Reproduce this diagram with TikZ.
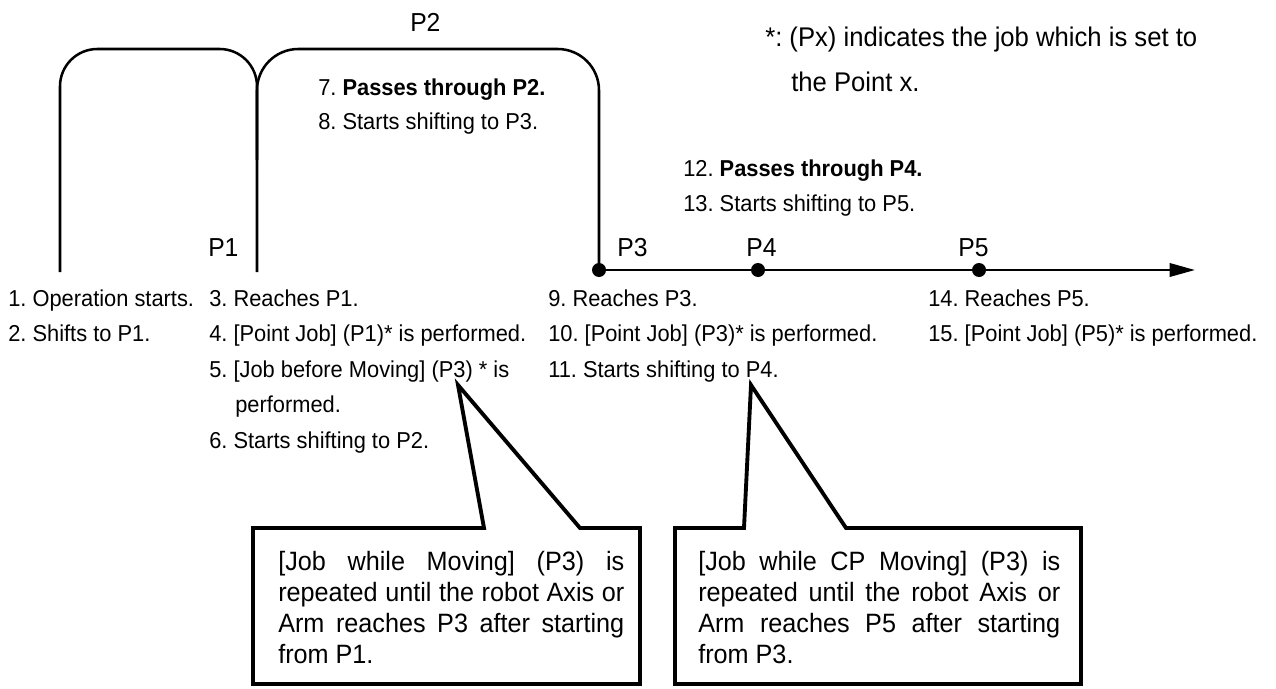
\documentclass[tikz,border=0pt]{standalone}
\usepackage{fontspec}
\setmainfont[FakeStretch=0.95]{Liberation Sans}
\usetikzlibrary{arrows.meta}
\frenchspacing
\begin{document}
\begin{tikzpicture}[x=0.75pt,y=-0.75pt,
  txt/.style={anchor=base west, inner sep=0pt, font=\fontsize{17.25}{20}\selectfont},
  plabel/.style={anchor=base west, inner sep=0pt, font=\fontsize{19.5}{22}\selectfont},
  note/.style={anchor=base west, inner sep=0pt, font=\fontsize{20.25}{24}\selectfont},
  pathline/.style={line width=1.9pt},
  dot/.style={circle, fill=black, inner sep=0pt, minimum size=10.5pt},
  callout/.style={line width=2.9pt, line join=miter},
  calltext/.style={anchor=base west, inner sep=0pt, font=\fontsize{19.9}{23.25}\selectfont}]
\useasboundingbox (0,0) rectangle (1276,688);

% path
\coordinate (start) at (60,272);
\coordinate (p1) at (257,272);
\coordinate (p1up) at (257,160);
\coordinate (end) at (1195,270);
\node[dot] (p3) at (599,270) {};
\node[dot] (p4) at (758,270) {};
\node[dot] (p5) at (979,270) {};
\draw[pathline, rounded corners=28pt] (start) -- (60,49) -- (257,49) -- (p1);
\draw[pathline, rounded corners=31pt] (p1up) -- (257,49) -- (599,49) -- (p3.center);
\draw[pathline, -{Triangle[length=19pt,width=10pt]}] (p3.center) -- (p4.center) -- (p5.center) -- (end);

% point labels
\node[plabel] (lp1) at (208,256) {P1};
\node[plabel] (lp2) at (410,32) {P2};
\node[plabel] (lp3) at (617,256) {P3};
\node[plabel] (lp4) at (746,256) {P4};
\node[plabel] (lp5) at (958,256) {P5};

% note
\node[note] (n1) at (765,47) {*: (Px) indicates the job which is set to};
\node[note] (n2) at (791,92) {the Point x.};

% step texts
\node[txt] (s7) at (318,96) {7. \textbf{Passes through P2.}};
\node[txt] (s8) at (318,130) {8. Starts shifting to P3.};
\node[txt] (s12) at (683,176) {12. \textbf{Passes through P4.}};
\node[txt] (s13) at (683,211) {13. Starts shifting to P5.};

\node[txt] (s1) at (8,306) {1. Operation starts.};
\node[txt] (s2) at (8,341.5) {2. Shifts to P1.};

\node[txt] (s3) at (209,306) {3. Reaches P1.};
\node[txt] (s4) at (209,341.5) {4. [Point Job] (P1)* is performed.};
\node[txt] (s5) at (209,377) {5. [Job before Moving] (P3) * is};
\node[txt] (s5b) at (235,412.5) {performed.};
\node[txt] (s6) at (209,448) {6. Starts shifting to P2.};

\node[txt] (s9) at (548,306) {9. Reaches P3.};
\node[txt] (s10) at (548,341.5) {10. [Point Job] (P3)* is performed.};
\node[txt] (s11) at (548,377) {11. Starts shifting to P4.};

\node[txt] (s14) at (928,306) {14. Reaches P5.};
\node[txt] (s15) at (928,341.5) {15. [Point Job] (P5)* is performed.};

% callouts
\coordinate (tip1) at (458,385);
\coordinate (tip2) at (751,385);
\draw[callout] (253,528) -- (484,528) -- (tip1) -- (580,528) -- (640,528) -- (640,684) -- (253,684) -- cycle;
\draw[callout] (675,528) -- (744,528) -- (tip2) -- (846,528) -- (1081,528) -- (1081,684) -- (675,684) -- cycle;

\node[calltext] (c1) at (278,570) {\parbox[t]{259.5pt}{\tolerance=10000\hbadness=10000
[Job while Moving] (P3) is\linebreak repeated until the robot Axis or\linebreak Arm reaches P3 after starting\linebreak from P1.}};
\node[calltext] (c2) at (698,570) {\parbox[t]{271.5pt}{\tolerance=10000\hbadness=10000
[Job while CP Moving] (P3) is\linebreak repeated until the robot Axis or\linebreak Arm reaches P5 after starting\linebreak from P3.}};
\end{tikzpicture}
\end{document}
